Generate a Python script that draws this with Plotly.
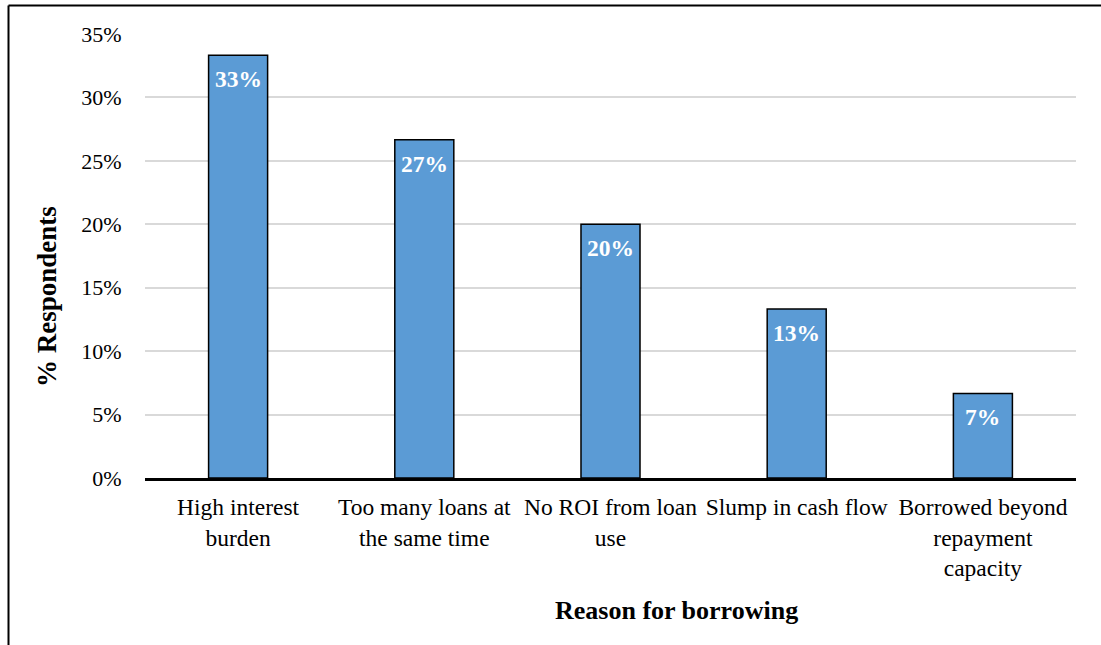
import plotly.graph_objects as go

categories = ["High interest<br>burden", "Too many loans at<br>the same time", "No ROI from loan<br>use",
              "Slump in cash flow", "Borrowed beyond<br>repayment<br>capacity"]
values = [33.33, 26.67, 20.0, 13.33, 6.67]
labels = ["33%", "27%", "20%", "13%", "7%"]
y_ticks = [0, 5, 10, 15, 20, 25, 30, 35]
y_tick_text = ["0%", "5%", "10%", "15%", "20%", "25%", "30%", "35%"]

W, H = 1101, 645
L, R, T, B = 145, 25, 34, 167
pw, ph = W - L - R, H - T - B

def px(x):
    return (x - L) / pw

def py(y):
    return (H - B - y) / ph

FONT = "Times New Roman"

fig = go.Figure(go.Bar(
    x=categories, y=values,
    marker=dict(color="#5B9BD5", line=dict(color="black", width=1.5)),
    width=0.317, cliponaxis=False,
))

value_annotations = [
    dict(text=f"<b>{lab}</b>", x=cat, y=val, xref="x", yref="y",
         showarrow=False, xanchor="center", yanchor="top", yshift=-9,
         font=dict(family=FONT, size=23.5, color="white"))
    for cat, val, lab in zip(categories, values, labels)
]

fig.update_layout(
    width=W, height=H,
    margin=dict(l=L, r=R, t=T, b=B),
    paper_bgcolor="white", plot_bgcolor="white",
    font=dict(family=FONT, size=22, color="#000000"),
    showlegend=False,
    xaxis=dict(
        showline=True, linecolor="black", linewidth=3,
        ticks="outside", ticklen=6, tickcolor="rgba(0,0,0,0)",
        tickfont=dict(family=FONT, size=23.5, color="#000000"),
        showgrid=False, zeroline=False,
    ),
    yaxis=dict(
        range=[0, 35], tickvals=y_ticks, ticktext=y_tick_text,
        showgrid=True, gridcolor="#d9d9d9", gridwidth=1.5,
        zeroline=False, showline=False,
        ticks="outside", ticklen=18, tickcolor="rgba(0,0,0,0)",
        tickfont=dict(family=FONT, size=22, color="#000000"),
    ),
    annotations=value_annotations + [
        dict(text="<b>% Respondents</b>", xref="paper", yref="paper",
             x=px(47), y=py(297), textangle=-90, showarrow=False,
             font=dict(family=FONT, size=27, color="black"),
             xanchor="center", yanchor="middle"),
        dict(text="<b>Reason for borrowing</b>", xref="paper", yref="paper",
             x=px(676), y=py(610), showarrow=False,
             font=dict(family=FONT, size=26, color="black"),
             xanchor="center", yanchor="middle"),
    ],
    shapes=[
        dict(type="line", xref="paper", yref="paper",
             x0=px(8.5), x1=px(1101), y0=py(5.5), y1=py(5.5),
             line=dict(color="black", width=2)),
        dict(type="line", xref="paper", yref="paper",
             x0=px(8.5), x1=px(8.5), y0=py(5.5), y1=py(645),
             line=dict(color="black", width=2)),
    ],
)

fig.write_html("out.html")
